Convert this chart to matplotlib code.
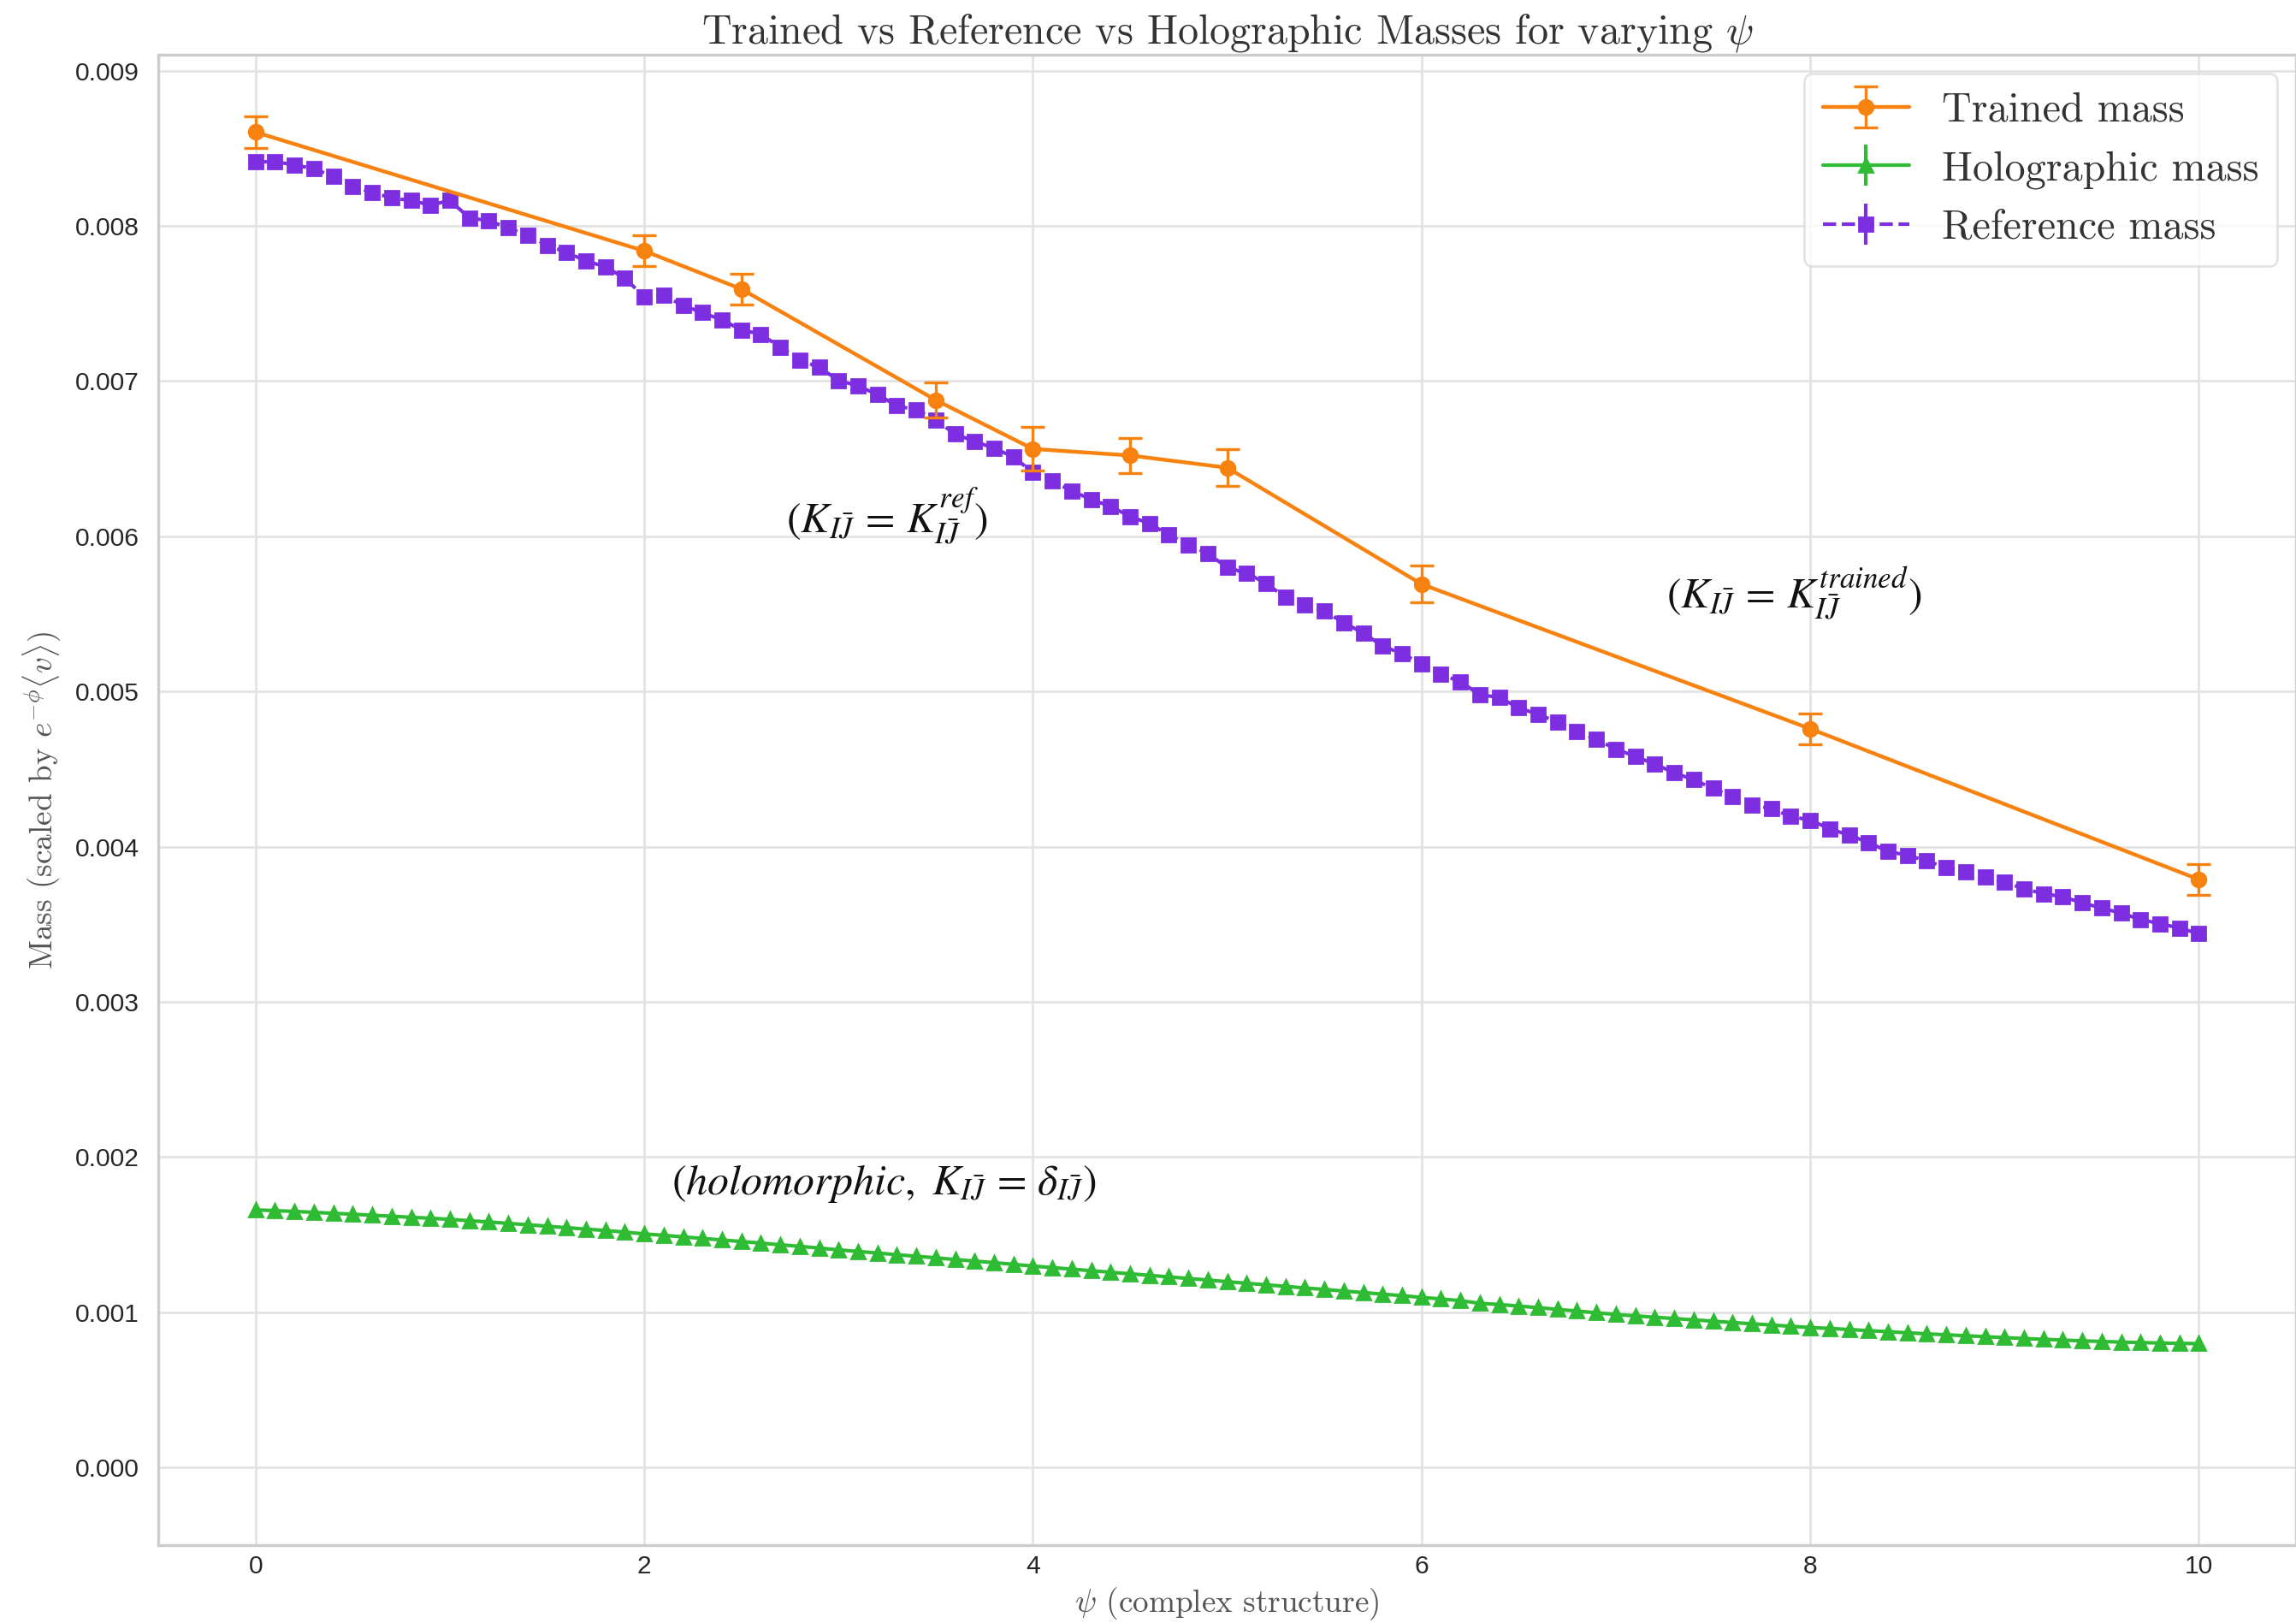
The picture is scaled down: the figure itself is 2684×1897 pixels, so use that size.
import numpy as np
import matplotlib
matplotlib.use("Agg")
import matplotlib.pyplot as plt

# ---- data -------------------------------------------------------------
trained_psi = [0, 2, 2.5, 3.5, 4, 4.5, 5, 6, 8, 10]
trained_mass = [8.604e-3, 7.839e-3, 7.593e-3, 6.878e-3, 6.563e-3,
                6.521e-3, 6.442e-3, 5.692e-3, 4.760e-3, 3.789e-3]
trained_err = [0.10e-3, 0.10e-3, 0.10e-3, 0.113e-3, 0.14e-3,
               0.112e-3, 0.117e-3, 0.12e-3, 0.10e-3, 0.10e-3]

psi_grid = [round(0.1 * i, 1) for i in range(101)]

reference_mass_e3 = [
    8.413, 8.413, 8.394, 8.367, 8.320, 8.256, 8.215, 8.181, 8.163, 8.135,
    8.163, 8.052, 8.033, 7.987, 7.941, 7.876, 7.830, 7.774, 7.737, 7.663,
    7.543, 7.552, 7.487, 7.441, 7.394, 7.330, 7.302, 7.218, 7.136, 7.088,
    7.005, 6.969, 6.914, 6.841, 6.814, 6.750, 6.658, 6.612, 6.567, 6.512,
    6.411, 6.356, 6.292, 6.238, 6.192, 6.128, 6.082, 6.009, 5.945, 5.890,
    5.799, 5.762, 5.698, 5.605, 5.560, 5.517, 5.444, 5.376, 5.294, 5.242,
    5.180, 5.110, 5.064, 4.978, 4.963, 4.894, 4.853, 4.802, 4.743, 4.692,
    4.629, 4.582, 4.532, 4.477, 4.431, 4.376, 4.321, 4.270, 4.246, 4.195,
    4.171, 4.116, 4.074, 4.028, 3.969, 3.945, 3.908, 3.866, 3.840, 3.807,
    3.770, 3.730, 3.697, 3.678, 3.638, 3.605, 3.572, 3.531, 3.504, 3.476,
    3.439,
]

holographic_mass_e3 = [
    1.660, 1.655, 1.650, 1.644, 1.638, 1.632, 1.625, 1.619, 1.612, 1.606,
    1.599, 1.590, 1.582, 1.573, 1.564, 1.555, 1.545, 1.536, 1.527, 1.517,
    1.505, 1.496, 1.486, 1.476, 1.466, 1.456, 1.446, 1.435, 1.425, 1.414,
    1.402, 1.392, 1.382, 1.371, 1.361, 1.351, 1.340, 1.330, 1.320, 1.309,
    1.298, 1.288, 1.278, 1.268, 1.258, 1.248, 1.238, 1.228, 1.218, 1.208,
    1.197, 1.187, 1.177, 1.167, 1.157, 1.147, 1.137, 1.127, 1.117, 1.107,
    1.096, 1.086, 1.075, 1.058, 1.050, 1.040, 1.030, 1.019, 1.008, 0.997,
    0.986, 0.977, 0.968, 0.960, 0.951, 0.943, 0.934, 0.926, 0.918, 0.910,
    0.902, 0.896, 0.889, 0.882, 0.875, 0.868, 0.861, 0.855, 0.849, 0.843,
    0.837, 0.831, 0.826, 0.821, 0.816, 0.812, 0.808, 0.805, 0.802, 0.800,
    0.798,
]

x_ticks = [0, 2, 4, 6, 8, 10]
y_ticks = [0.000, 0.001, 0.002, 0.003, 0.004, 0.005, 0.006, 0.007, 0.008, 0.009]

reference_mass = np.array(reference_mass_e3) * 1e-3
holographic_mass = np.array(holographic_mass_e3) * 1e-3

# ---- style ------------------------------------------------------------
plt.style.use("seaborn-v0_8-whitegrid")
plt.rcParams["font.family"] = ["Liberation Sans", "DejaVu Sans"]
plt.rcParams["mathtext.fontset"] = "cm"
plt.rcParams["axes.unicode_minus"] = False

ORANGE = "#f7820f"
GREEN = "#2fbb33"
PURPLE = "#7d2ee0"
SERIF = "cmr10"

fig = plt.figure(figsize=(13.42, 9.485), dpi=200)
ax = fig.add_axes([0.069, 0.048, 0.931, 0.918])

ax.errorbar(psi_grid, holographic_mass, yerr=np.zeros(len(psi_grid)),
            color=GREEN, marker="^", markersize=5.8, linewidth=1.5,
            capsize=0, label="Holographic mass", zorder=3)
ax.errorbar(psi_grid, reference_mass, yerr=np.zeros(len(psi_grid)),
            color=PURPLE, marker="s", markersize=5.8, linestyle="--",
            linewidth=1.5, capsize=0, label="Reference mass", zorder=3)
ax.errorbar(trained_psi, trained_mass, yerr=trained_err,
            color=ORANGE, marker="o", markersize=6, linewidth=1.6,
            elinewidth=1.2, capsize=5, capthick=1.2,
            label="Trained mass", zorder=4)

ax.set_xlim(-0.5, 10.5)
ax.set_ylim(-0.0005, 0.0091)
ax.set_xticks(x_ticks)
ax.set_yticks(y_ticks)
ax.set_yticklabels([f"{v:.3f}" for v in y_ticks])
ax.tick_params(labelsize=10.8, colors="#262626", length=0)
ax.tick_params(axis="x", pad=4)
ax.tick_params(axis="y", pad=8)
for s in ax.spines.values():
    s.set_color("#cccccc")
    s.set_linewidth(1.2)
ax.grid(True, color="#e3e3e3", linewidth=1.0)

ax.set_title(r"Trained vs Reference vs Holographic Masses for varying $\psi$",
             fontfamily=SERIF, fontsize=17.3, color="#333333", pad=5)
ax.set_xlabel(r"$\psi$ (complex structure)", fontfamily=SERIF,
              fontsize=13.4, color="#555555", labelpad=3)
ax.set_ylabel(r"Mass (scaled by $e^{-\phi}\langle v\rangle$)",
              fontfamily=SERIF, fontsize=13.4, color="#555555", labelpad=5)

# annotations for each Kahler metric choice
ann_kw = dict(fontsize=18, color="#111111", math_fontfamily="stix",
              va="center", ha="left")
ax.text(2.73, 0.00613, r"$(K_{I\bar{J}}\,=\,K_{I\bar{J}}^{ref})$", **ann_kw)
ax.text(7.26, 0.00563, r"$(K_{I\bar{J}}\,=\,K_{I\bar{J}}^{trained})$", **ann_kw)
ax.text(2.14, 0.00183,
        r"$(holomorphic,\ K_{I\bar{J}}\,=\,\delta_{I\bar{J}})$", **ann_kw)

handles, labels = ax.get_legend_handles_labels()
order = [labels.index(n) for n in ("Trained mass", "Holographic mass", "Reference mass")]
leg = ax.legend([handles[i] for i in order], [labels[i] for i in order],
                loc="upper right", frameon=True, fancybox=True,
                prop={"family": SERIF, "size": 17.3}, borderpad=0.45,
                handlelength=2.1, handletextpad=0.8, labelspacing=0.5,
                borderaxespad=0.45)
leg.get_frame().set_edgecolor("#dddddd")
leg.get_frame().set_facecolor("white")
for t in leg.get_texts():
    t.set_color("#333333")

fig.savefig("out.png", dpi=200)
